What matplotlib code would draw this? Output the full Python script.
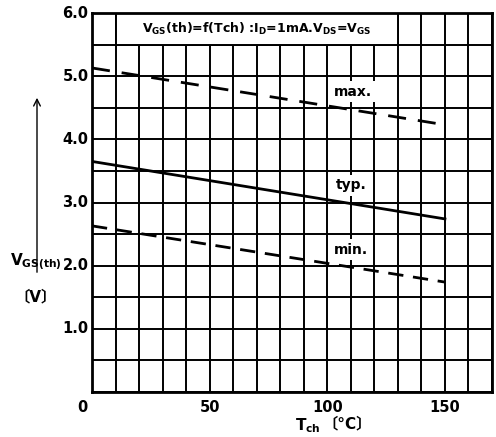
import numpy as np
import matplotlib
matplotlib.use("Agg")
import matplotlib.pyplot as plt
from matplotlib.patches import Rectangle, FancyArrowPatch

# channel temperature (degC) and gate threshold voltage (V)
t_ch = [0, 150]
vgs_max = [5.13, 4.23]
vgs_typ = [3.65, 2.74]
vgs_min = [2.63, 1.74]

x_ticks = [0, 50, 100, 150]
y_ticks = [1.0, 2.0, 3.0, 4.0, 5.0, 6.0]

plt.rcParams['font.family'] = ['DejaVu Sans', 'Noto Sans CJK JP']

fig = plt.figure(figsize=(4.96, 4.37), dpi=100)
ax = fig.add_axes([92 / 496, 1 - 392 / 437, 400 / 496, 379 / 437])
ax.set_xlim(0, 170)
ax.set_ylim(0, 6.0)

# grid every 10 degC and every 0.5 V
ax.set_xticks(np.arange(0, 171, 10))
ax.set_yticks(np.arange(0, 6.01, 0.5))
ax.set_xticklabels([])
ax.set_yticklabels([])
ax.tick_params(length=0)
ax.grid(True, color='black', linewidth=1.4, zorder=1)
ax.set_axisbelow(True)
for s in ax.spines.values():
    s.set_linewidth(2.0)

for x in x_ticks:
    ax.text(x - (4 if x == 0 else 0), -0.12, str(x), ha='center', va='top',
            fontsize=10.5, fontweight='bold')
for y in y_ticks:
    ax.text(-1.5, y, f"{y:.1f}", ha='right', va='center',
            fontsize=10.5, fontweight='bold')

# title box
ax.add_patch(Rectangle((10, 5.5), 120, 0.5, facecolor='white',
                       edgecolor='black', linewidth=1.4, zorder=2))
ax.text(70, 5.75, r"V$_{\mathregular{GS}}$(th)=f(Tch) :I$_{\mathregular{D}}$=1mA.V$_{\mathregular{DS}}$=V$_{\mathregular{GS}}$",
        ha='center', va='center', fontsize=9, fontweight='bold', zorder=3)

ax.plot(t_ch, vgs_max, color='black', lw=2, dashes=(6.5, 4.3), zorder=4)
ax.plot(t_ch, vgs_typ, color='black', lw=2, zorder=4)
ax.plot(t_ch, vgs_min, color='black', lw=2, dashes=(5.5, 3.5), zorder=4)

box = dict(facecolor='white', edgecolor='none', pad=2.5)
ax.text(111, 4.75, "max.", ha='center', va='center', fontsize=10,
        fontweight='bold', bbox=box, zorder=3)
ax.text(110, 3.27, "typ.", ha='center', va='center', fontsize=10,
        fontweight='bold', bbox=box, zorder=3)
ax.text(110, 2.25, "min.", ha='center', va='center', fontsize=10,
        fontweight='bold', bbox=box, zorder=3)

# axis labels
fig.text(36 / 496, 1 - 262 / 437, r"V$_{\mathregular{GS(th)}}$", ha='center', va='center',
         fontsize=11, fontweight='bold')
fig.text(36 / 496, 1 - 297 / 437, "〔V〕", ha='center', va='center',
         fontsize=11, fontweight='bold')
fig.add_artist(FancyArrowPatch(
    (37 / 496, 1 - 275 / 437), (37 / 496, 1 - 95 / 437),
    transform=fig.transFigure, arrowstyle='->', mutation_scale=12,
    color='black', lw=1.0))
fig.text(321 / 496, 1 - 426 / 437, r"T$_{\mathregular{ch}}$", ha='right', va='center',
         fontsize=11, fontweight='bold')
fig.text(322 / 496, 1 - 424 / 437, "〔°C〕", ha='left', va='center',
         fontsize=11, fontweight='bold')

fig.savefig("out.png", dpi=100)
